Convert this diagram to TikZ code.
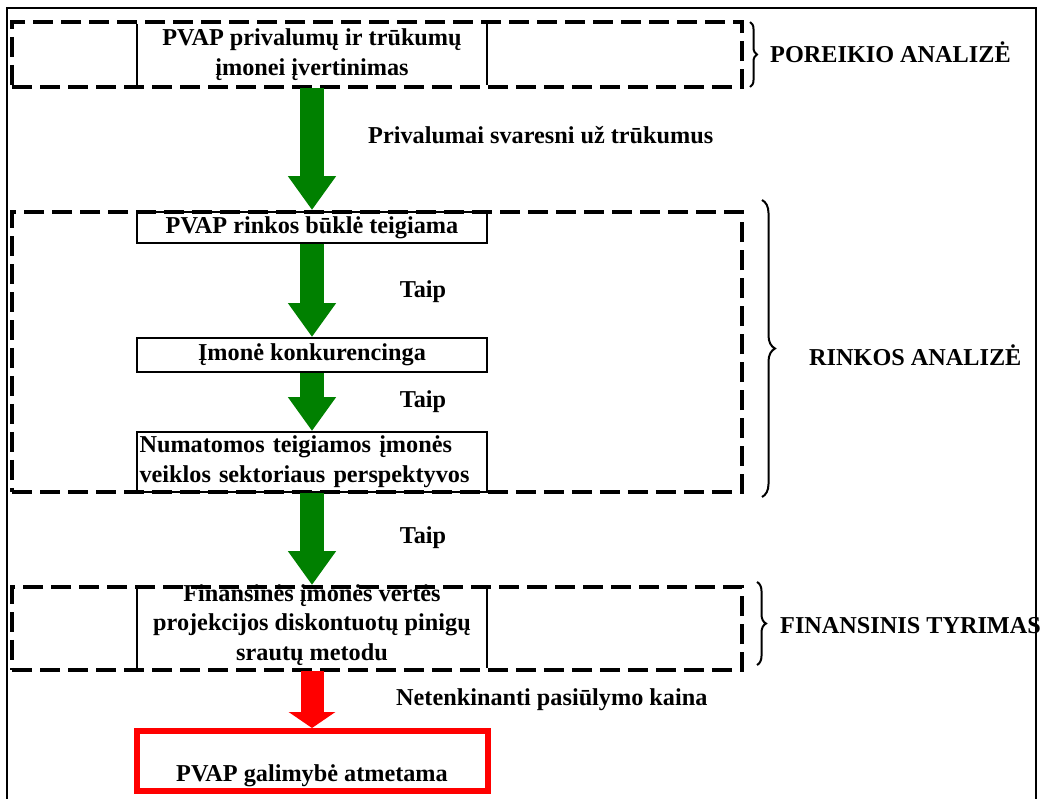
\documentclass[tikz,border=0pt]{standalone}
\usepackage{fontspec}
\setmainfont{Liberation Serif}
\definecolor{FlowGreen}{rgb}{0.0,0.5,0.0}
\definecolor{FlowRed}{rgb}{1.0,0.0,0.0}
\usetikzlibrary{arrows.meta, positioning, decorations.pathreplacing, calc}

\begin{document}
\begin{tikzpicture}[x=0.02cm, y=-0.02cm,
    font=\bfseries\fontsize{13.8}{15}\selectfont,
    phase/.style={draw, line width=0.08cm, dash pattern=on 0.4cm off 0.16cm,
        preaction={draw=white, solid, line width=0.08cm},
        minimum width=14.6cm, inner sep=0pt},
    stepbox/.style={draw, line width=0.04cm, minimum width=7cm, inner sep=0pt, align=center},
    flow/.style={line width=0.48cm, FlowGreen, -{Triangle[width=0.92cm, length=0.68cm]}},
    stop/.style={line width=0.46cm, FlowRed, -{Triangle[width=0.92cm, length=0.32cm]}},
    brace/.style={decorate, decoration={brace, amplitude=#1}, line width=0.04cm},
    brace/.default=0.16cm]
    \useasboundingbox (0,0) rectangle (1041,798);
    % outer frame
    \draw [line width=0.04cm] (7,820) -- (7,8) -- (1036,8) -- (1036,820);

    % need analysis
    \node [stepbox, minimum height=1.3cm] (needs) at (312,54.5) {PVAP privalumų ir trūkumų\\[2pt]įmonei įvertinimas};
    \node [phase, minimum height=1.3cm] (needsphase) at (377,54.5) {};

    % market analysis
    \node [phase, minimum height=5.6cm] (marketphase) at (377,352) {};
    \node [stepbox, minimum height=0.62cm] (state) at (312,227.5) {PVAP rinkos būklė teigiama};
    \node [stepbox, minimum height=0.68cm] (compete) at (312,355) {Įmonė konkurencinga};
    \node [stepbox, minimum height=1.2cm, text width=6.9cm, align=left] (sector) at (312,462) {Numatomos teigiamos įmonės\\[2pt]veiklos sektoriaus perspektyvos};

    % financial study
    \node [stepbox, minimum height=1.66cm] (finance) at (312,628.5) {};
    \node [phase, minimum height=1.66cm] (financephase) at (377,628.5) {};
    \node [align=center] (financetext) at (312,625) {Finansinės įmonės vertės\\[2pt]projekcijos diskontuotų pinigų\\[2pt]srautų metodu};

    % rejected
    \node [draw=FlowRed, line width=0.12cm, minimum width=7.04cm, minimum height=1.2cm, inner sep=0pt] (reject) at (312.5,761) {};
    \node (rejecttext) at (312,776) {PVAP galimybė atmetama};

    % arrows
    \draw [flow] (needs.south) -- (needs.south |- marketphase.north);
    \draw [flow] (state.south) -- (compete.north);
    \draw [flow] (compete.south) -- (sector.north);
    \draw [flow] (sector.south) -- (sector.south |- financephase.north);
    \draw [stop] (finance.south) -- (finance.south |- reject.north);

    % arrow labels
    \node [anchor=west] (lbl1) at (362,135) {Privalumai svaresni už trūkumus};
    \node (lbl2) at (423,292) {Taip};
    \node (lbl3) at (423,402) {Taip};
    \node (lbl4) at (423,538) {Taip};
    \node [anchor=west] (lbl5) at (390,700) {Netenkinanti pasiūlymo kaina};

    % braces and phase names
    \draw [brace=0.14cm] (750,22) -- (750,87);
    \node [anchor=west] (needsname) at (764,52) {POREIKIO ANALIZĖ};
    \draw [brace=0.26cm] (762,200) -- (762,497);
    \node [anchor=west] (marketname) at (803,355) {RINKOS ANALIZĖ};
    \draw [brace=0.18cm] (757,582) -- (757,665);
    \node [anchor=west] (financename) at (774,626) {FINANSINIS TYRIMAS};
\end{tikzpicture}
\end{document}
